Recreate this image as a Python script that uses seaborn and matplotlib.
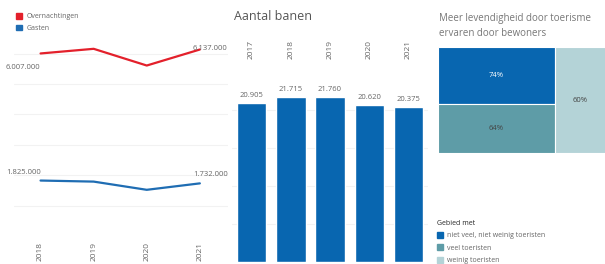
import pandas as pd
import seaborn as sns
import matplotlib.pyplot as plt
from matplotlib.patches import Patch

# data
jaren_toerisme = [2018, 2019, 2020, 2021]
overnachtingen = [6007000, 6160000, 5610000, 6137000]
gasten = [1825000, 1790000, 1520000, 1732000]

jaren_banen = ["2017", "2018", "2019", "2020", "2021"]
banen = [20905, 21715, 21760, 20620, 20375]

gebied_labels = ["niet veel, niet weinig toeristen", "veel toeristen", "weinig toeristen"]
levendigheid = [74, 64, 60]

sns.set_theme(style="white")
plt.rcParams["font.family"] = ["Open Sans", "DejaVu Sans"]

W, H = 605, 264
fig = plt.figure(figsize=(W / 100, H / 100), dpi=100)

def box(x0, y0, x1, y1):
    # pixel box (top-left origin) -> figure fraction
    return [x0 / W, 1 - y1 / H, (x1 - x0) / W, (y1 - y0) / H]

grey = "#666666"
grid = "#f2f2f2"

# ---- left: overnachtingen / gasten ----
ax1 = fig.add_axes(box(14, 40, 228, 236))
df = pd.DataFrame({
    "jaar": jaren_toerisme * 2,
    "waarde": overnachtingen + gasten,
    "reeks": ["Overnachtingen"] * 4 + ["Gasten"] * 4,
})
kleuren = {"Overnachtingen": "#e3202b", "Gasten": "#1f6db3"}
sns.lineplot(data=df, x="jaar", y="waarde", hue="reeks", palette=kleuren,
             linewidth=1.6, ax=ax1, legend=False)
ax1.set_xlim(2017.5, 2021.53)
ax1.set_ylim(0, 6450000)
ax1.set_yticks(range(1000000, 7000000, 1000000))
ax1.set_yticklabels([])
ax1.tick_params(axis="y", length=0)
ax1.grid(axis="y", color=grid, linewidth=0.8)
ax1.set_xticks(jaren_toerisme)
ax1.set_xticklabels([str(j) for j in jaren_toerisme], rotation=90,
                    fontsize=6, color=grey)
ax1.tick_params(axis="x", length=0, pad=4)
ax1.set_xlabel("")
ax1.set_ylabel("")
for s in ax1.spines.values():
    s.set_visible(False)

def fmt(v):
    return f"{v:,}".replace(",", ".")

ax1.annotate(fmt(overnachtingen[0]), (jaren_toerisme[0], overnachtingen[0]),
             xytext=(-25, -11), textcoords="offset points", fontsize=5.5, color=grey)
ax1.annotate(fmt(overnachtingen[-1]), (jaren_toerisme[-1], overnachtingen[-1]),
             xytext=(-5, 0), textcoords="offset points", fontsize=5.5, color=grey)
ax1.annotate(fmt(gasten[0]), (jaren_toerisme[0], gasten[0]),
             xytext=(-25, 5), textcoords="offset points", fontsize=5.5, color=grey)
ax1.annotate(fmt(gasten[-1]), (jaren_toerisme[-1], gasten[-1]),
             xytext=(-5, 5), textcoords="offset points", fontsize=5.5, color=grey)

fig.legend(handles=[Patch(color=kleuren[k]) for k in kleuren], labels=list(kleuren),
           loc="upper left", bbox_to_anchor=(13 / W, 1 - 10 / H), frameon=False,
           fontsize=5, handlelength=0.9, handleheight=0.9, handletextpad=0.7,
           labelspacing=0.65, labelcolor=grey, borderaxespad=0)

# ---- middle: aantal banen ----
ax2 = fig.add_axes(box(232, 70, 428, 262))
sns.barplot(x=jaren_banen, y=banen, color="#0866b0", saturation=1, width=0.75, ax=ax2)
ax2.set_ylim(0, 25250)
ax2.set_yticks(range(5000, 20001, 5000))
ax2.set_yticklabels([])
ax2.tick_params(axis="y", length=0)
ax2.grid(axis="y", color=grid, linewidth=0.8)
ax2.set_axisbelow(True)
ax2.xaxis.tick_top()
ax2.set_xticks(range(len(jaren_banen)))
ax2.set_xticklabels(jaren_banen, rotation=90, fontsize=6, color=grey)
ax2.tick_params(axis="x", length=0, pad=8)
for s in ax2.spines.values():
    s.set_visible(False)
for i, v in enumerate(banen):
    ax2.text(i, v + 500, fmt(v), ha="center", va="bottom", fontsize=5.5, color=grey)
fig.text(234 / W, 1 - 17 / H, "Aantal banen", fontsize=9, color="#555555", va="center")

# ---- right: treemap levendigheid ----
ax3 = fig.add_axes(box(438, 47, 606, 153))
tm_kleuren = ["#0866b0", "#5e9ca7", "#b4d3d7"]
links = levendigheid[0] + levendigheid[1]
totaal = links + levendigheid[2]
breedte = [links / totaal, links / totaal, levendigheid[2] / totaal]
xpos = [0, 0, links / totaal]
hoogte = [levendigheid[0] / links, levendigheid[1] / links, 1]
onder = [levendigheid[1] / links, 0, 0]
ax3.bar(xpos, hoogte, width=breedte, bottom=onder, align="edge",
        color=tm_kleuren, edgecolor="white", linewidth=0.8)
tekstkleur = ["white", "#444444", "#444444"]
for i in range(3):
    ax3.text(xpos[i] + breedte[i] / 2, onder[i] + hoogte[i] / 2, f"{levendigheid[i]}%",
             ha="center", va="center", fontsize=5.5, color=tekstkleur[i])
ax3.set_xlim(0, 1)
ax3.set_ylim(0, 1)
ax3.axis("off")
fig.text(439 / W, 1 - 13 / H, "Meer levendigheid door toerisme\nervaren door bewoners",
         fontsize=7, color="#777777", va="top", linespacing=1.5)

fig.legend(handles=[Patch(color=c) for c in tm_kleuren], labels=gebied_labels,
           title="Gebied met", title_fontsize=5, alignment="left",
           loc="upper left", bbox_to_anchor=(434 / W, 1 - 217 / H), frameon=False,
           fontsize=5, handlelength=0.9, handleheight=0.9, handletextpad=0.6,
           labelspacing=0.75, labelcolor=grey, borderaxespad=0)

fig.savefig("out.png", dpi=100)
